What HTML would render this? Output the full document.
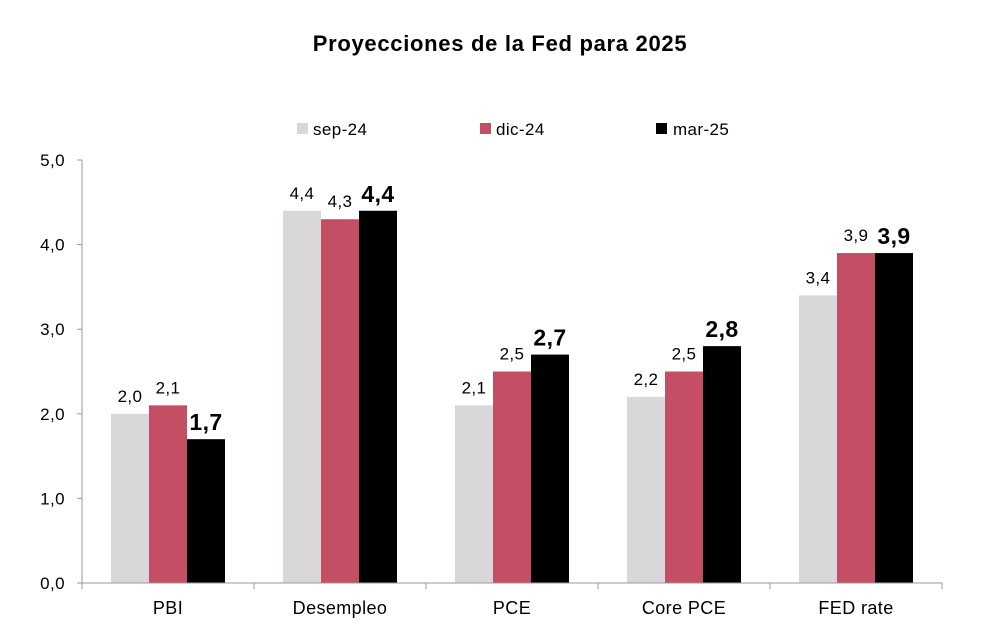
<!DOCTYPE html>
<html><head><meta charset="utf-8">
<style>
html,body{margin:0;padding:0;background:#fff;}
svg{display:block;font-family:"Liberation Sans",sans-serif;}
</style></head>
<body>
<svg id="chart" width="991" height="640" viewBox="0 0 991 640" xmlns="http://www.w3.org/2000/svg">
<text x="500" y="51" text-anchor="middle" font-size="22" font-weight="bold" letter-spacing="0.7" fill="#000">Proyecciones de la Fed para 2025</text>
<g>
 <rect x="297" y="123" width="11" height="11" fill="#d9d7da"/>
 <text x="313" y="135" font-size="17" letter-spacing="0.4" fill="#000">sep-24</text>
 <rect x="480" y="123" width="11" height="11" fill="#c44e63"/>
 <text x="496" y="135" font-size="17" letter-spacing="0.4" fill="#000">dic-24</text>
 <rect x="656" y="123" width="11" height="11" fill="#000"/>
 <text x="673" y="135" font-size="17" letter-spacing="0.4" fill="#000">mar-25</text>
</g>
<g id="plot"></g>
</svg>
<script>
const categories = ["PBI","Desempleo","PCE","Core PCE","FED rate"];
const sep24 = [2.0,4.4,2.1,2.2,3.4];
const dic24 = [2.1,4.3,2.5,2.5,3.9];
const mar25 = [1.7,4.4,2.7,2.8,3.9];
const yTicks = [0,1,2,3,4,5];

const NS="http://www.w3.org/2000/svg";
const plot=document.getElementById('plot');
const x0=82,x1=942,yBase=583,yTop=160,yMax=5;
const band=(x1-x0)/categories.length;
const y=v=>yBase-(v/yMax)*(yBase-yTop);
const bx=(i,s)=>x0+band*i+band/2-57+s*38;
function mk(tag,attrs){const e=document.createElementNS(NS,tag);for(const k in attrs)e.setAttribute(k,attrs[k]);plot.appendChild(e);return e;}
const fmt=v=>v.toFixed(1).replace('.',',');

let ax=mk('line',{x1:x0,y1:yTop,x2:x0,y2:yBase,stroke:'#999','stroke-width':1});


yTicks.forEach(t=>{
 const tk=mk('line',{x1:x0-5,y1:y(t),x2:x0,y2:y(t),stroke:'#999'});
 
 
 const lb=mk('text',{x:65,y:y(t)+6,'text-anchor':'end','font-size':17,'letter-spacing':0.4,fill:'#000'});
 lb.textContent=fmt(t);
 
 
});
const series=[[sep24,'#d9d7da','sep-24'],[dic24,'#c44e63','dic-24'],[mar25,'#000','mar-25']];
categories.forEach((c,i)=>{
 series.forEach(([arr,col,nm],s)=>{
  const v=arr[i];
  const r=mk('rect',{x:bx(i,s),y:y(v),width:38,height:yBase-y(v),fill:col});
  
  
  const bold=s===2;
  const t=mk('text',{x:bx(i,s)+19,y:y(v)-(bold?9:12),'text-anchor':'middle','font-size':bold?23:17,'font-weight':bold?'bold':'normal','letter-spacing':0.4,fill:'#000'});
  t.textContent=fmt(v);
  
  
 });
 const cl=mk('text',{x:x0+band*i+band/2,y:614,'text-anchor':'middle','font-size':18,'letter-spacing':0.4,fill:'#000'});
 cl.textContent=c;
 
 
});
const xa=mk('line',{x1:x0,y1:yBase,x2:x1,y2:yBase,stroke:'#999'});


for(let i=0;i<=categories.length;i++){
 const tk=mk('line',{x1:x0+band*i,y1:yBase,x2:x0+band*i,y2:yBase+6,stroke:'#999'});
 
 
}
</script>
</body></html>
